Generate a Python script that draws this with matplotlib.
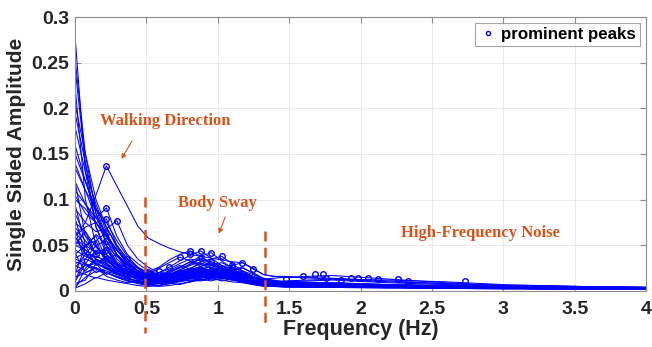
import matplotlib
matplotlib.use("Agg")
import matplotlib.pyplot as plt
from matplotlib.ticker import FuncFormatter

# ---------------- data ----------------
freq = [0, 0.073, 0.147, 0.22, 0.293, 0.367, 0.44, 0.513, 0.587, 0.66, 0.733,
        0.807, 0.88, 0.953, 1.027, 1.1, 1.173, 1.247, 1.32, 1.393, 1.467,
        1.8, 2.2, 2.6, 3.0, 3.5, 4.0]

spectra = [
    [0.280, 0.130, 0.070, 0.045, 0.030, 0.022, 0.018, 0.015, 0.014, 0.016, 0.020, 0.024, 0.026, 0.022, 0.018, 0.015, 0.012, 0.010, 0.008, 0.008, 0.007, 0.006, 0.005, 0.004, 0.004, 0.003, 0.003],
    [0.255, 0.150, 0.085, 0.050, 0.032, 0.025, 0.020, 0.016, 0.015, 0.018, 0.022, 0.025, 0.022, 0.020, 0.017, 0.014, 0.011, 0.009, 0.008, 0.007, 0.007, 0.006, 0.005, 0.004, 0.004, 0.003, 0.003],
    [0.245, 0.140, 0.070, 0.040, 0.028, 0.020, 0.015, 0.012, 0.012, 0.015, 0.018, 0.020, 0.019, 0.017, 0.015, 0.013, 0.010, 0.009, 0.007, 0.007, 0.006, 0.006, 0.005, 0.004, 0.003, 0.003, 0.003],
    [0.205, 0.150, 0.100, 0.070, 0.048, 0.032, 0.022, 0.016, 0.013, 0.014, 0.017, 0.019, 0.021, 0.020, 0.018, 0.015, 0.012, 0.010, 0.008, 0.007, 0.007, 0.006, 0.005, 0.004, 0.004, 0.003, 0.003],
    [0.195, 0.140, 0.090, 0.060, 0.040, 0.026, 0.018, 0.013, 0.011, 0.013, 0.016, 0.018, 0.020, 0.022, 0.020, 0.016, 0.012, 0.010, 0.008, 0.007, 0.006, 0.006, 0.005, 0.004, 0.004, 0.003, 0.003],
    [0.180, 0.130, 0.095, 0.065, 0.040, 0.025, 0.016, 0.011, 0.010, 0.012, 0.015, 0.017, 0.018, 0.016, 0.014, 0.012, 0.010, 0.008, 0.007, 0.006, 0.006, 0.005, 0.005, 0.004, 0.003, 0.003, 0.003],
    [0.150, 0.120, 0.090, 0.070, 0.050, 0.035, 0.026, 0.020, 0.017, 0.017, 0.020, 0.023, 0.024, 0.021, 0.018, 0.015, 0.013, 0.011, 0.009, 0.008, 0.007, 0.006, 0.005, 0.004, 0.004, 0.003, 0.003],
    [0.060, 0.075, 0.105, 0.137, 0.115, 0.093, 0.071, 0.058, 0.052, 0.047, 0.043, 0.040, 0.038, 0.036, 0.034, 0.032, 0.031, 0.025, 0.018, 0.016, 0.015, 0.014, 0.011, 0.008, 0.006, 0.005, 0.004],
    [0.140, 0.110, 0.090, 0.075, 0.055, 0.038, 0.026, 0.018, 0.014, 0.014, 0.016, 0.020, 0.025, 0.023, 0.019, 0.016, 0.013, 0.010, 0.008, 0.007, 0.006, 0.006, 0.005, 0.004, 0.003, 0.003, 0.003],
    [0.120, 0.095, 0.080, 0.091, 0.060, 0.040, 0.030, 0.022, 0.018, 0.017, 0.019, 0.022, 0.024, 0.022, 0.019, 0.016, 0.013, 0.011, 0.009, 0.008, 0.007, 0.006, 0.005, 0.004, 0.004, 0.003, 0.003],
    [0.060, 0.070, 0.075, 0.079, 0.050, 0.035, 0.025, 0.020, 0.017, 0.016, 0.018, 0.021, 0.023, 0.021, 0.018, 0.015, 0.012, 0.010, 0.009, 0.008, 0.007, 0.006, 0.005, 0.004, 0.004, 0.003, 0.003],
    [0.090, 0.075, 0.065, 0.068, 0.077, 0.050, 0.035, 0.026, 0.020, 0.018, 0.020, 0.025, 0.030, 0.028, 0.024, 0.020, 0.016, 0.013, 0.010, 0.009, 0.008, 0.007, 0.006, 0.005, 0.004, 0.003, 0.003],
    [0.040, 0.050, 0.055, 0.064, 0.040, 0.030, 0.022, 0.017, 0.014, 0.015, 0.018, 0.020, 0.019, 0.017, 0.015, 0.013, 0.011, 0.009, 0.008, 0.007, 0.006, 0.006, 0.005, 0.004, 0.003, 0.003, 0.003],
    [0.110, 0.095, 0.075, 0.055, 0.040, 0.028, 0.018, 0.012, 0.011, 0.015, 0.022, 0.030, 0.036, 0.032, 0.026, 0.020, 0.015, 0.012, 0.009, 0.008, 0.007, 0.006, 0.005, 0.004, 0.003, 0.003, 0.003],
    [0.070, 0.055, 0.040, 0.030, 0.024, 0.020, 0.019, 0.021, 0.026, 0.034, 0.040, 0.044, 0.038, 0.030, 0.024, 0.019, 0.015, 0.012, 0.010, 0.009, 0.008, 0.007, 0.006, 0.005, 0.004, 0.003, 0.003],
    [0.050, 0.045, 0.035, 0.028, 0.022, 0.018, 0.016, 0.017, 0.020, 0.026, 0.033, 0.039, 0.044, 0.036, 0.028, 0.021, 0.016, 0.012, 0.010, 0.009, 0.008, 0.007, 0.006, 0.005, 0.004, 0.003, 0.003],
    [0.030, 0.035, 0.030, 0.024, 0.019, 0.016, 0.015, 0.018, 0.025, 0.031, 0.037, 0.033, 0.029, 0.025, 0.022, 0.019, 0.016, 0.013, 0.010, 0.009, 0.008, 0.007, 0.006, 0.005, 0.004, 0.003, 0.003],
    [0.020, 0.028, 0.030, 0.026, 0.022, 0.019, 0.017, 0.016, 0.017, 0.019, 0.021, 0.023, 0.025, 0.026, 0.027, 0.028, 0.031, 0.024, 0.018, 0.016, 0.016, 0.013, 0.010, 0.008, 0.006, 0.005, 0.004],
    [0.060, 0.040, 0.030, 0.025, 0.020, 0.017, 0.014, 0.013, 0.015, 0.020, 0.026, 0.032, 0.038, 0.042, 0.033, 0.025, 0.018, 0.013, 0.010, 0.009, 0.008, 0.007, 0.006, 0.005, 0.004, 0.003, 0.003],
    [0.035, 0.030, 0.025, 0.020, 0.016, 0.013, 0.011, 0.011, 0.014, 0.018, 0.023, 0.028, 0.032, 0.035, 0.038, 0.030, 0.022, 0.015, 0.011, 0.009, 0.008, 0.007, 0.006, 0.005, 0.004, 0.003, 0.003],
    [0.002, 0.025, 0.035, 0.030, 0.020, 0.014, 0.010, 0.008, 0.009, 0.012, 0.016, 0.020, 0.022, 0.024, 0.022, 0.018, 0.014, 0.010, 0.007, 0.006, 0.005, 0.005, 0.004, 0.004, 0.003, 0.003, 0.003],
    [0.010, 0.030, 0.045, 0.040, 0.028, 0.018, 0.012, 0.008, 0.006, 0.008, 0.012, 0.015, 0.018, 0.020, 0.021, 0.019, 0.015, 0.011, 0.008, 0.007, 0.006, 0.005, 0.004, 0.004, 0.003, 0.003, 0.003],
    [0.005, 0.015, 0.022, 0.020, 0.016, 0.012, 0.009, 0.007, 0.008, 0.011, 0.014, 0.017, 0.019, 0.018, 0.016, 0.014, 0.012, 0.010, 0.008, 0.006, 0.005, 0.005, 0.004, 0.003, 0.003, 0.002, 0.002],
    [0.085, 0.060, 0.050, 0.055, 0.035, 0.025, 0.018, 0.014, 0.012, 0.013, 0.016, 0.019, 0.022, 0.024, 0.025, 0.023, 0.019, 0.015, 0.012, 0.010, 0.009, 0.008, 0.006, 0.005, 0.004, 0.003, 0.003],
    [0.045, 0.038, 0.032, 0.035, 0.028, 0.022, 0.016, 0.012, 0.010, 0.011, 0.013, 0.015, 0.017, 0.019, 0.020, 0.022, 0.020, 0.016, 0.012, 0.010, 0.008, 0.007, 0.006, 0.005, 0.004, 0.003, 0.003],
    [0.025, 0.040, 0.038, 0.033, 0.026, 0.020, 0.015, 0.011, 0.009, 0.010, 0.012, 0.014, 0.015, 0.017, 0.019, 0.020, 0.018, 0.014, 0.011, 0.009, 0.008, 0.007, 0.006, 0.005, 0.004, 0.003, 0.003],
    [0.055, 0.045, 0.035, 0.028, 0.022, 0.018, 0.015, 0.013, 0.012, 0.013, 0.014, 0.016, 0.018, 0.020, 0.018, 0.016, 0.014, 0.013, 0.013, 0.014, 0.015, 0.017, 0.013, 0.009, 0.006, 0.005, 0.004],
    [0.015, 0.020, 0.025, 0.022, 0.018, 0.014, 0.011, 0.009, 0.008, 0.009, 0.011, 0.013, 0.014, 0.015, 0.016, 0.015, 0.013, 0.011, 0.010, 0.010, 0.011, 0.013, 0.012, 0.010, 0.007, 0.005, 0.004],
    [0.075, 0.065, 0.048, 0.036, 0.028, 0.021, 0.017, 0.014, 0.012, 0.012, 0.013, 0.015, 0.017, 0.019, 0.021, 0.023, 0.025, 0.020, 0.014, 0.011, 0.009, 0.008, 0.007, 0.006, 0.004, 0.003, 0.003],
    [0.032, 0.028, 0.024, 0.020, 0.015, 0.011, 0.008, 0.006, 0.005, 0.006, 0.008, 0.010, 0.012, 0.014, 0.015, 0.014, 0.012, 0.009, 0.007, 0.006, 0.005, 0.004, 0.004, 0.003, 0.003, 0.002, 0.002],
    [0.100, 0.090, 0.075, 0.060, 0.045, 0.032, 0.022, 0.017, 0.014, 0.015, 0.017, 0.019, 0.021, 0.023, 0.022, 0.020, 0.017, 0.013, 0.010, 0.008, 0.007, 0.006, 0.005, 0.004, 0.003, 0.003, 0.003],
    [0.065, 0.050, 0.042, 0.040, 0.030, 0.020, 0.014, 0.010, 0.009, 0.010, 0.012, 0.014, 0.016, 0.018, 0.017, 0.015, 0.012, 0.010, 0.008, 0.007, 0.006, 0.005, 0.005, 0.004, 0.003, 0.003, 0.003],
    [0.120, 0.060, 0.040, 0.045, 0.030, 0.018, 0.012, 0.015, 0.010, 0.012, 0.020, 0.016, 0.022, 0.018, 0.020, 0.014, 0.011, 0.008, 0.006, 0.007, 0.005, 0.005, 0.004, 0.004, 0.003, 0.003, 0.002],
    [0.095, 0.050, 0.060, 0.035, 0.040, 0.022, 0.016, 0.010, 0.014, 0.011, 0.017, 0.024, 0.019, 0.025, 0.017, 0.020, 0.013, 0.010, 0.007, 0.008, 0.006, 0.005, 0.005, 0.004, 0.003, 0.003, 0.003],
    [0.018, 0.050, 0.028, 0.036, 0.022, 0.026, 0.013, 0.017, 0.010, 0.015, 0.012, 0.019, 0.015, 0.021, 0.016, 0.018, 0.012, 0.009, 0.010, 0.006, 0.007, 0.006, 0.004, 0.004, 0.003, 0.003, 0.002],
    [0.008, 0.012, 0.030, 0.018, 0.025, 0.014, 0.018, 0.009, 0.012, 0.008, 0.014, 0.010, 0.016, 0.013, 0.017, 0.012, 0.014, 0.009, 0.007, 0.008, 0.005, 0.006, 0.004, 0.004, 0.003, 0.002, 0.002],
    [0.160, 0.120, 0.085, 0.060, 0.045, 0.030, 0.025, 0.015, 0.018, 0.022, 0.028, 0.024, 0.031, 0.026, 0.022, 0.025, 0.017, 0.012, 0.009, 0.010, 0.007, 0.006, 0.005, 0.004, 0.004, 0.003, 0.003],
    [0.050, 0.065, 0.040, 0.048, 0.030, 0.025, 0.020, 0.024, 0.017, 0.021, 0.026, 0.032, 0.027, 0.030, 0.024, 0.027, 0.020, 0.016, 0.012, 0.011, 0.009, 0.008, 0.006, 0.005, 0.004, 0.003, 0.003],
    [0.028, 0.022, 0.034, 0.026, 0.019, 0.022, 0.014, 0.011, 0.013, 0.009, 0.011, 0.014, 0.012, 0.015, 0.011, 0.013, 0.010, 0.007, 0.006, 0.006, 0.005, 0.004, 0.004, 0.003, 0.003, 0.002, 0.002],
    [0.080, 0.040, 0.055, 0.030, 0.020, 0.024, 0.015, 0.012, 0.015, 0.018, 0.023, 0.019, 0.026, 0.021, 0.024, 0.018, 0.022, 0.015, 0.011, 0.009, 0.008, 0.007, 0.006, 0.005, 0.004, 0.003, 0.003],
    [0.012, 0.035, 0.050, 0.032, 0.026, 0.018, 0.020, 0.013, 0.010, 0.013, 0.018, 0.015, 0.021, 0.024, 0.019, 0.022, 0.017, 0.013, 0.010, 0.009, 0.007, 0.006, 0.005, 0.004, 0.003, 0.003, 0.002],
    [0.135, 0.110, 0.080, 0.062, 0.045, 0.034, 0.022, 0.022, 0.016, 0.020, 0.025, 0.029, 0.035, 0.030, 0.026, 0.021, 0.018, 0.014, 0.012, 0.010, 0.009, 0.008, 0.006, 0.005, 0.004, 0.003, 0.003],
    [0.003, 0.008, 0.015, 0.012, 0.010, 0.008, 0.006, 0.005, 0.006, 0.008, 0.010, 0.012, 0.011, 0.013, 0.012, 0.010, 0.009, 0.007, 0.005, 0.005, 0.004, 0.004, 0.003, 0.003, 0.002, 0.002, 0.002],
    [0.042, 0.020, 0.026, 0.016, 0.012, 0.009, 0.011, 0.007, 0.006, 0.009, 0.007, 0.010, 0.013, 0.011, 0.014, 0.012, 0.010, 0.008, 0.006, 0.006, 0.005, 0.004, 0.004, 0.003, 0.003, 0.002, 0.002],
    [0.225, 0.100, 0.050, 0.035, 0.025, 0.020, 0.016, 0.019, 0.014, 0.017, 0.021, 0.018, 0.022, 0.019, 0.016, 0.014, 0.012, 0.010, 0.008, 0.008, 0.007, 0.006, 0.005, 0.004, 0.003, 0.003, 0.003],
    [0.058, 0.048, 0.062, 0.050, 0.038, 0.028, 0.022, 0.018, 0.020, 0.024, 0.030, 0.035, 0.033, 0.028, 0.031, 0.026, 0.022, 0.018, 0.013, 0.012, 0.010, 0.009, 0.007, 0.006, 0.005, 0.004, 0.003],
    [0.022, 0.018, 0.014, 0.020, 0.015, 0.011, 0.009, 0.008, 0.010, 0.013, 0.016, 0.014, 0.018, 0.016, 0.013, 0.015, 0.011, 0.009, 0.007, 0.006, 0.006, 0.005, 0.004, 0.003, 0.003, 0.002, 0.002],
    [0.105, 0.085, 0.075, 0.060, 0.045, 0.030, 0.020, 0.016, 0.013, 0.016, 0.019, 0.023, 0.027, 0.032, 0.028, 0.024, 0.026, 0.019, 0.013, 0.011, 0.010, 0.009, 0.007, 0.005, 0.004, 0.003, 0.003],
    [0.036, 0.042, 0.030, 0.038, 0.024, 0.030, 0.018, 0.014, 0.016, 0.014, 0.019, 0.022, 0.018, 0.023, 0.020, 0.017, 0.019, 0.014, 0.012, 0.011, 0.010, 0.012, 0.009, 0.007, 0.005, 0.004, 0.003],
    [0.068, 0.030, 0.020, 0.025, 0.018, 0.015, 0.010, 0.012, 0.008, 0.010, 0.013, 0.011, 0.014, 0.017, 0.015, 0.018, 0.014, 0.011, 0.009, 0.008, 0.007, 0.006, 0.005, 0.004, 0.003, 0.003, 0.002],
]

peak_freq = [0.22, 0.22, 0.22, 0.293, 0.22, 0.22, 0.22, 0.147, 0.367,
             0.733, 0.807, 0.88, 0.953, 1.027, 0.807, 0.88, 0.953, 1.1, 1.173,
             1.1, 0.66, 0.587, 1.247,
             1.48, 1.595, 1.68, 1.735, 1.76, 1.86, 1.93, 1.985, 2.05, 2.125,
             2.265, 2.33, 2.73]
peak_amp = [0.137, 0.091, 0.079, 0.077, 0.064, 0.055, 0.045, 0.040, 0.035,
            0.037, 0.044, 0.044, 0.042, 0.038, 0.040, 0.036, 0.032, 0.026, 0.031,
            0.028, 0.026, 0.022, 0.024,
            0.013, 0.016, 0.0186, 0.0186, 0.014, 0.012, 0.0146, 0.014, 0.0146, 0.013,
            0.0128, 0.0106, 0.0106]

xticks = [0, 0.5, 1, 1.5, 2, 2.5, 3, 3.5, 4]
yticks = [0, 0.05, 0.1, 0.15, 0.2, 0.25, 0.3]
band_edges = [0.49, 1.33]

# ---------------- figure ----------------
plt.rcParams['font.family'] = ['Liberation Sans', 'DejaVu Sans']
fig = plt.figure(figsize=(6.52, 3.47), dpi=100)
ax = fig.add_axes([0.115, 0.1614, 0.876, 0.7896])

for s in spectra:
    ax.plot(freq, s, color='#0000ff', lw=0.75, zorder=2)
ax.plot(peak_freq, peak_amp, 'o', ls='none', mfc='none', mec='#0000ff',
        ms=4.0, mew=1.0, zorder=3, label='prominent peaks')

ax.set_xlim(0, 4)
ax.set_ylim(0, 0.3)
ax.set_xticks(xticks)
ax.set_yticks(yticks)
fmt = FuncFormatter(lambda v, p: ('%g' % round(v, 3)))
ax.xaxis.set_major_formatter(fmt)
ax.yaxis.set_major_formatter(fmt)
ax.grid(True, color='#e6e6e6', lw=0.6, zorder=0)
ax.set_axisbelow(True)
ax.tick_params(direction='in', top=True, right=True, length=4,
               color='#8c8c8c', labelsize=14, labelcolor='#262626')
ax.tick_params(axis='x', pad=7)
ax.tick_params(axis='y', pad=4)
for lab in ax.get_xticklabels() + ax.get_yticklabels():
    lab.set_fontweight('bold')
for sp in ax.spines.values():
    sp.set_color('#8c8c8c')
    sp.set_linewidth(0.8)

ax.set_xlabel('Frequency (Hz)', fontsize=15.5, fontweight='bold', color='#262626', labelpad=1)
ax.set_ylabel('Single Sided Amplitude', fontsize=15, fontweight='bold', color='#262626', labelpad=4)

leg = ax.legend(loc='upper right', frameon=True, fancybox=False, borderpad=0.25,
                handletextpad=0.3, handlelength=1.0, borderaxespad=0.35,
                markerscale=0.75, prop={'weight': 'bold', 'size': 12.2})
leg.get_frame().set_edgecolor('#8c8c8c')
leg.get_frame().set_linewidth(0.8)

orange = '#D95319'
ax.plot([band_edges[0], band_edges[0]], [0.103, -0.046], color=orange, lw=1.8,
        ls=(0, (4, 2.5)), clip_on=False, zorder=4)
ax.plot([band_edges[1], band_edges[1]], [0.066, -0.040], color=orange, lw=1.8,
        ls=(0, (4, 2.5)), clip_on=False, zorder=4)

tfont = dict(family=['Liberation Serif', 'DejaVu Serif'], weight='bold', size=12, color=orange)
ax.text(0.63, 0.186, 'Walking Direction', ha='center', va='center', **tfont)
ax.text(0.995, 0.096, 'Body Sway', ha='center', va='center', **tfont)
ax.text(2.84, 0.0635, 'High-Frequency Noise', ha='center', va='center', **tfont)

ap = dict(arrowstyle='-|>', color=orange, lw=0.8, mutation_scale=7)
ax.annotate('', xy=(0.315, 0.142), xytext=(0.41, 0.167), arrowprops=ap)
ax.annotate('', xy=(1.0, 0.060), xytext=(1.06, 0.084), arrowprops=ap)

fig.savefig('out.png', dpi=100)
